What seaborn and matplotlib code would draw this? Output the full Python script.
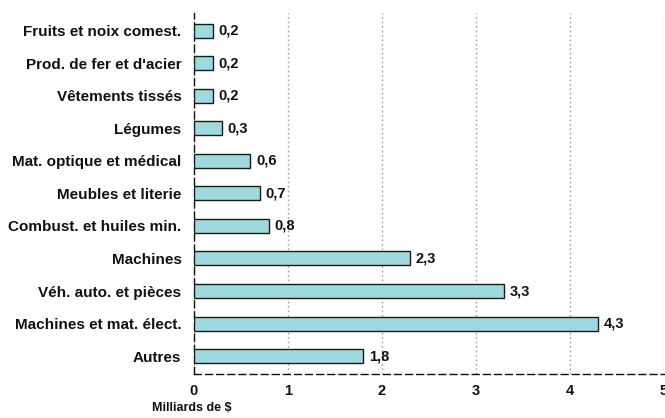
import matplotlib
matplotlib.use("Agg")
import matplotlib.pyplot as plt
import seaborn as sns
import pandas as pd

categories = [
    "Fruits et noix comest.",
    "Prod. de fer et d'acier",
    "Vêtements tissés",
    "Légumes",
    "Mat. optique et médical",
    "Meubles et literie",
    "Combust. et huiles min.",
    "Machines",
    "Véh. auto. et pièces",
    "Machines et mat. élect.",
    "Autres",
]
values = [0.2, 0.2, 0.2, 0.3, 0.6, 0.7, 0.8, 2.3, 3.3, 4.3, 1.8]
xticks = [0, 1, 2, 3, 4, 5]

df = pd.DataFrame({"cat": categories, "val": values})

sns.set_style("white")
plt.rcParams["font.family"] = ["Liberation Sans", "DejaVu Sans"]

fig = plt.figure(figsize=(6.65, 4.18), dpi=100)
ax = fig.add_axes([0.2917, 0.1053, 0.7068, 0.864])

sns.barplot(data=df, x="val", y="cat", orient="h", color="#a0d9dd",
            edgecolor="#1a1a1a", linewidth=1.0, width=0.43, saturation=1,
            ax=ax, zorder=3)

for i, v in enumerate(values):
    ax.text(v + 0.06, i, f"{v:.1f}".replace(".", ","), va="center", ha="left",
            fontsize=10.5, fontweight="bold", color="#111111", zorder=4)

ax.set_xlim(0, 5)
ax.set_ylim(10.55, -0.55)
ax.set_xticks(xticks)
ax.set_xticklabels([str(t) for t in xticks], fontsize=10.5, fontweight="bold")
ax.tick_params(axis="x", direction="in", length=4, width=0.8, pad=7, colors="#111111")
ax.tick_params(axis="y", length=0, pad=9)
for lab in ax.get_yticklabels():
    lab.set_fontsize(11)
    lab.set_fontweight("bold")
    lab.set_color("#111111")

ax.xaxis.grid(True, linestyle=(0, (1.2, 2)), color="#a0a0a0", linewidth=1.0)
ax.set_axisbelow(True)
for s in ["top", "right"]:
    ax.spines[s].set_visible(False)
for s in ["left", "bottom"]:
    ax.spines[s].set_linestyle((0, (5, 3)))
    ax.spines[s].set_color("#111111")
    ax.spines[s].set_linewidth(1.0)

ax.set_ylabel("")
ax.set_xlabel("")
fig.text(0.289, 0.01, "Milliards de $", ha="center", va="bottom",
         fontsize=9, fontweight="bold", color="#111111")

fig.savefig("out.png", dpi=100)
